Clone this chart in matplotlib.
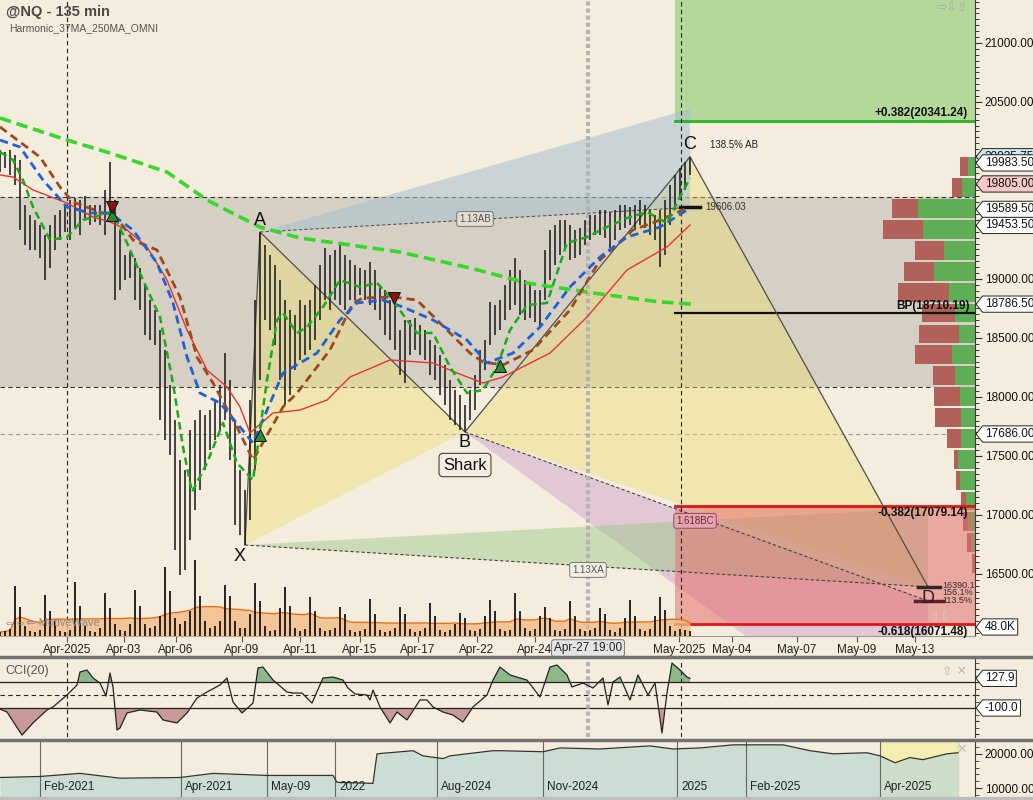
import numpy as np
import pandas as pd
import matplotlib
matplotlib.use("Agg")
import matplotlib.pyplot as plt
import matplotlib.transforms as mtransforms
from matplotlib.lines import Line2D
from matplotlib.path import Path
from matplotlib.ticker import MultipleLocator, FuncFormatter

plt.rcParams['font.family'] = ['Liberation Sans', 'DejaVu Sans']

# ---------------- data ----------------
highs = [20093, 20076, 20093, 20050, 20008, 19627, 19542, 19499, 19457, 19372,
         19457, 19542, 19584, 19627, 19669, 19686, 19669, 19703, 19627, 19627,
         19627, 19754, 19991, 19669, 19415, 19203, 19228, 19177, 19093, 18949,
         18821, 18737, 18567, 18398, 18101, 17804, 17465, 17381, 17720, 17804,
         17889, 17847, 17889, 17974, 18101, 18372, 18143, 17804, 17381, 17211,
         17974, 18821, 19398, 19288, 19203, 19118, 18991, 18821, 18737, 18694,
         18821, 18779, 18821, 18949, 19118, 19262, 19203, 19245, 19288, 19203,
         19160, 19118, 19093, 19076, 19144, 19076, 18949, 18906, 18821, 18779,
         18567, 18652, 18652, 18669, 18610, 18567, 18482, 18440, 18355, 18271,
         18143, 18059, 18016, 17932, 18059, 18186, 18398, 18482, 18805, 18779,
         18821, 18949, 19076, 19177, 19076, 18991, 18949, 18906, 18906, 19245,
         19415, 19457, 19499, 19499, 19457, 19415, 19432, 19499, 19542, 19542,
         19584, 19584, 19567, 19584, 19627, 19627, 19610, 19627, 19669, 19627,
         19584, 19542, 19584, 19669, 19796, 19881, 19940, 19991, 20036]
lows = [19906, 19940, 19881, 19796, 19415, 19288, 19245, 19245, 19177, 18991,
        19093, 19245, 19330, 19398, 19330, 19432, 19372, 19516, 19457, 19483,
        19457, 19372, 19483, 18821, 18906, 18991, 19008, 18821, 18737, 18525,
        18482, 18440, 17804, 17635, 17508, 16703, 16491, 16533, 16787, 17042,
        17211, 17381, 17550, 17635, 17720, 17804, 17465, 16915, 16830, 16745,
        16957, 17381, 18143, 18652, 18567, 18440, 18143, 17932, 18016, 18228,
        18313, 18355, 18398, 18482, 18652, 18821, 18737, 18821, 18779, 18737,
        18821, 18821, 18864, 18821, 18779, 18737, 18652, 18525, 18482, 18398,
        18186, 18118, 18355, 18398, 18355, 18313, 18186, 18143, 18016, 17932,
        17804, 17762, 17720, 17703, 17804, 17889, 18101, 18228, 18440, 18525,
        18567, 18652, 18737, 18779, 18694, 18652, 18669, 18635, 18593, 18821,
        18991, 19118, 19203, 19245, 19160, 19177, 19203, 19288, 19330, 19372,
        19372, 19347, 19262, 19330, 19415, 19432, 19457, 19415, 19457, 19432,
        19372, 19330, 19101, 19203, 19457, 19584, 19669, 19754, 19881]
volume_k = [21, 27, 37, 265, 154, 53, 27, 21, 32, 217,
            133, 80, 27, 21, 32, 286, 159, 53, 27, 21,
            42, 228, 148, 64, 32, 27, 64, 244, 159, 64,
            42, 53, 106, 366, 239, 95, 64, 80, 133, 403,
            212, 80, 42, 53, 80, 270, 212, 80, 42, 42,
            117, 281, 186, 53, 27, 32, 148, 260, 159, 42,
            27, 37, 207, 133, 42, 27, 32, 42, 154, 117,
            32, 21, 27, 37, 196, 117, 32, 21, 27, 42,
            154, 117, 37, 21, 27, 42, 175, 106, 32, 21,
            32, 64, 122, 95, 32, 27, 37, 106, 191, 133,
            37, 27, 32, 228, 133, 42, 27, 37, 106, 154,
            95, 32, 27, 37, 186, 106, 37, 27, 32, 42,
            148, 117, 32, 21, 42, 95, 191, 106, 37, 27,
            37, 106, 207, 138, 53, 27, 37, 32, 27]

# moving averages (bar index, price)
ma250_i = [0, 13.4, 22, 33.4, 41.4, 48, 52, 60, 70, 80, 94, 105.4, 118.6, 132, 138.4]
ma250_p = [20364, 20177, 20067, 19906, 19669, 19525, 19440, 19347, 19288, 19228,
           19093, 18966, 18881, 18805, 18787]
brown_i = [0, 8, 12, 14.6, 20, 23.4, 26.6, 31.4, 36, 39.4, 42.6, 47.4, 50.6, 56.6, 59.4,
           66, 70.6, 72.6, 78.6, 83.4, 90, 94, 96.6, 100.6, 106.6, 114, 120, 126.6, 132, 137.4]
brown_p = [20288, 20033, 19779, 19652, 19567, 19516, 19330, 19245, 18847, 18338, 18118,
           17745, 17465, 17915, 18033, 18398, 18796, 18838, 18847, 18821, 18542, 18372,
           18296, 18271, 18398, 18737, 19160, 19415, 19499, 19601]
blue_i = [0, 4, 8.6, 13.4, 18, 22, 26.6, 31.4, 34.6, 37.4, 40, 44, 48, 50.6, 56.6, 63.4,
          68, 71.4, 76.6, 80.6, 86.6, 93.4, 97.4, 102.6, 108, 114, 120, 125.4, 132, 137.4]
blue_p = [20177, 20118, 19838, 19610, 19559, 19559, 19415, 19135, 18796, 18338, 18033,
          17949, 17745, 17610, 18203, 18372, 18652, 18796, 18821, 18762, 18652, 18482,
          18288, 18372, 18593, 18932, 19186, 19355, 19440, 19584]
fast_i = [0, 2.6, 4.6, 6.6, 10, 13.4, 16.6, 20, 22.6, 25.4, 28.6, 32, 34.6, 36.6, 38.4,
          41.4, 44.6, 47.4, 50.6, 53.4, 55.4, 56.6, 59.4, 61.4, 64.6, 68, 72, 75.4, 78,
          81.4, 83.4, 86.6, 90, 93.4, 96.6, 99.4, 102, 105.4, 109.4, 113.4, 117.4, 121.4,
          125.4, 129.4, 133.4, 136, 138]
fast_p = [20076, 20008, 19838, 19610, 19330, 19355, 19499, 19542, 19559, 19305, 18991,
          18677, 18118, 17576, 17194, 17440, 17779, 17440, 17296, 18143, 18652, 18711,
          18542, 18593, 18762, 18991, 18932, 18966, 18847, 18652, 18542, 18542, 18254,
          18033, 18059, 18254, 18567, 18779, 18796, 19305, 19355, 19440, 19516, 19567,
          19474, 19694, 19855]
red_i = [0, 2.6, 6.6, 13.4, 18.6, 22, 25.4, 29.4, 33.4, 37.4, 41.4, 45.4, 48, 50, 54.6,
         60, 65.4, 70, 78, 86.6, 91.4, 96.6, 100.6, 110, 117.4, 125.4, 133.4, 138]
red_p = [19881, 19864, 19754, 19644, 19525, 19483, 19415, 19271, 18991, 18567, 18228,
         18084, 17915, 17694, 17864, 17889, 17974, 18169, 18313, 18288, 18203, 18118,
         18169, 18372, 18677, 19076, 19271, 19457]

# signals
sig_up_i = [22.4, 52, 100]
sig_up_p = [19540, 17678, 18262]
sig_dn_i = [22.4, 78.8]
sig_dn_p = [19612, 18838]

# harmonic (Shark) points
pt_names = ['X', 'A', 'B', 'C', 'D']
pt_i = [49, 52, 93, 138, 185.6]
pt_p = [16745, 19398, 17703, 20035.75, 16390.1]
ab_113, ab_1618 = 19606.03, 20441
bc_1618, bc_224 = 16271, 14850
xa_0886, xa_113 = 17059, 16390.1

# fib zone
fib_x0 = 135
fib_up, fib_bp, fib_m382, fib_m618 = 20341.24, 18710.19, 17079.14, 16071.48
band_lo, band_hi = 18085, 19695
ref_line = 17686.0

# volume profile
prof_price = [19950, 19773, 19596, 19419, 19242, 19065, 18888, 18711, 18534, 18357,
              18180, 18003, 17826, 17649, 17472, 17295, 17118, 16941, 16764, 16587]
prof_green = [7, 13, 57, 52, 31, 41, 26, 20, 16, 23, 20, 15, 14, 14, 17, 15, 9, 7, 4, 0]
prof_red = [8, 10, 26, 40, 29, 30, 51, 33, 40, 37, 22, 26, 26, 14, 4, 4, 5, 5, 4, 3]
prof_bin = 177
PROF_MAX = 975

# CCI(20)
cci_i = [0, 1.4, 4.4, 6.6, 9.4, 10.6, 13.4, 15.4, 16, 17.4,
         18.6, 20, 21.2, 22, 22.6, 23.4, 24, 25.4, 28, 31.4,
         32.6, 35.4, 37.4, 39.4, 41.4, 44, 45.4, 46.6, 48.4, 50.6,
         51.6, 52.6, 54.6, 57.4, 58.6, 60.4, 62.4, 64.6, 66.6, 68.6,
         69.6, 71, 73.4, 74, 74.6, 76, 78, 79.4, 81.4, 84,
         85.4, 86.6, 88.6, 90.6, 92.6, 94.6, 97.4, 98.6, 100, 102,
         104, 105.4, 108, 110, 111.4, 113.4, 114.4, 116.6, 118.6, 120.6,
         121.6, 122.6, 124, 126, 127.6, 129.6, 131, 132.4, 133.4, 134.4,
         136, 137.4, 138]
cci_v = [-108, -131, -308, -215, -115, -92, 0, 77, 177, 192,
         131, 92, -8, 169, 62, -269, -254, -138, -115, -131,
         -192, -215, -138, -23, 23, 77, 131, -54, -138, -62,
         208, 215, 115, 23, 15, 15, -62, 131, 138, 115,
         54, 8, 0, -38, 38, -92, -215, -131, -192, -38,
         -38, -92, -131, -154, -208, -92, 0, 115, 215, 154,
         131, 115, -15, 215, 231, 154, 62, 92, 54, 131,
         -77, 100, 138, -38, 154, 0, 92, -292, 15, 246,
         192, 138, 128]

# overview strip
ov_i = [0, 8, 16, 24, 36, 42.6, 53.4, 66.6, 67.4, 74.6, 75.4, 82.6, 84.6, 88.6, 90,
        98.6, 100, 108.6, 112, 120, 130, 134.6, 140, 146.6, 156.6, 162, 166.6, 173.4,
        176, 179, 182, 184.6, 189.4, 191.6]
ov_v = [13100, 13400, 14300, 12900, 13100, 14300, 13700, 13700, 11700, 11400, 20000,
        20900, 19400, 18600, 19400, 20900, 20900, 20600, 21700, 21400, 22300, 21400,
        21700, 22600, 22600, 20900, 20000, 20300, 19400, 17400, 18900, 18300, 20000, 20300]
ov_sep_i = [8, 36.2, 53.4, 67, 87.4, 108.6, 135.4, 149.2, 176]
ov_sep_lbl = ['Feb-2021', 'Apr-2021', 'May-09', '2022', 'Aug-2024', 'Nov-2024',
              '2025', 'Feb-2025', 'Apr-2025']
ov_window = (176, 191.6)

# time axis
date_pos = [13.4, 24.8, 35.2, 48.4, 60, 72, 83.6, 95.4, 107, 135.8, 146.4, 159.4, 171.4, 183]
date_lbl = ['Apr-2025', 'Apr-03', 'Apr-06', 'Apr-09', 'Apr-11', 'Apr-15', 'Apr-17',
            'Apr-22', 'Apr-24', 'May-2025', 'May-04', 'May-07', 'May-09', 'May-13']
cross_i, cross_lbl = 117.6, 'Apr-27 19:00'
vdash_i = [13.4, 136.2]

tag_prices = [20035.75, 19983.50, 19805.00, 19589.50, 19453.50, 18786.50, 17686.00]
tag_colors = ['#CFE6F2', 'white', '#F6C8C8', 'white', 'white', 'white', 'white']
price_ticks = [16500, 17000, 17500, 18000, 18500, 19000, 19500, 20000, 20500, 21000]
price_tick_lbl = ['16500.00', '17000.00', '17500.00', '18000.00', '18500.00', '19000.00',
                  '', '', '20500.00', '21000.00']   # 19500 / 20000 sit under the price tags

# ---------------- styling ----------------
BG = '#F4ECDC'
W, H = 1033.0, 800.0
fig = plt.figure(figsize=(10.33, 8.0), dpi=100, facecolor=BG)


def rect(l, t, r, b):
    return [l / W, 1 - b / H, (r - l) / W, (b - t) / H]


ax = fig.add_axes(rect(0, 0, 975, 636), facecolor=BG)
ax_vol = ax.twinx()
ax_cci = fig.add_axes(rect(0, 659, 975, 737), facecolor=BG, sharex=ax)
ax_ov = fig.add_axes(rect(0, 742, 975, 797), facecolor=BG)


class TagBox:
    def __init__(self, pad=0.18):
        self.pad = pad

    def __call__(self, x0, y0, width, height, mutation_size):
        p = mutation_size * self.pad
        x0 -= p
        y0 -= p
        x1 = x0 + width + 2 * p
        y1 = y0 + height + 2 * p
        t = (y1 - y0) / 2.0
        return Path([(x0, y0), (x1, y0), (x1, y1), (x0, y1), (x0 - t * 0.8, y0 + t), (x0, y0)],
                    closed=True)


def tag(a, val, txt, fc='white'):
    a.annotate(txt, xy=(1.0, val), xycoords=('axes fraction', 'data'), xytext=(7, 0),
               textcoords='offset points', ha='left', va='center', fontsize=8.5, color='#111',
               annotation_clip=False, zorder=20,
               bbox=dict(boxstyle=TagBox(), fc=fc, ec='#222', lw=0.7))


for a in (ax, ax_cci, ax_ov):
    for s in ('top', 'left'):
        a.spines[s].set_visible(False)
    a.spines['right'].set_color('#3A3A3A')
    a.spines['bottom'].set_color('#9A9A9A')
    a.yaxis.tick_right()
    a.yaxis.set_label_position('right')
ax_cci.spines['bottom'].set_visible(False)
ax_ov.spines['bottom'].set_visible(False)

# ---------------- main price panel ----------------
idx = np.arange(len(highs))
ax.set_xlim(0, 195)
ax.set_ylim(15974, 21364)

ax.axhspan(band_lo, band_hi, color='#D6D0C4', lw=0, zorder=0.2)
for lvl in (band_lo, band_hi):
    ax.axhline(lvl, color='#333333', ls=(0, (4, 3)), lw=0.8, zorder=0.4)
ax.axhline(ref_line, color='#9E9E9E', ls=(0, (4, 3)), lw=0.8, zorder=0.4)

# volume profile (anchored to right edge)
prof_tr = mtransforms.blended_transform_factory(
    mtransforms.Affine2D().scale(-1.0 / PROF_MAX, 1).translate(1, 0) + ax.transAxes, ax.transData)
ax.barh(prof_price, prof_green, height=prof_bin * 0.9, left=0, color='#5EAE55',
        transform=prof_tr, zorder=0.6, lw=0)
ax.barh(prof_price, prof_red, height=prof_bin * 0.9, left=prof_green, color='#B2605A',
        transform=prof_tr, zorder=0.6, lw=0)

# fib zones
ax.fill_between([fib_x0, 195], fib_up, 22000, color='#8ACB6E', alpha=0.6, lw=0, zorder=0.8)
ax.plot([fib_x0, 195], [fib_up, fib_up], color='#1FB81F', lw=2, zorder=2)
ax.fill_between([fib_x0, 195], fib_m618, fib_m382, color='#E5706F', alpha=0.55, lw=0, zorder=1.6)
ax.plot([fib_x0, 195], [fib_m382, fib_m382], color='#E01515', lw=2, zorder=2)
ax.plot([fib_x0, 195], [fib_m618, fib_m618], color='#E01515', lw=2, zorder=2)
ax.plot([fib_x0, 195], [fib_bp, fib_bp], color='#111', lw=1.6, zorder=2)
ax.text(193.6, fib_up + 12, '+0.382(20341.24)', ha='right', va='bottom', fontsize=8.5,
        fontweight='bold', color='#111', zorder=6)
ax.text(194, fib_bp + 12, 'BP(18710.19)', ha='right', va='bottom', fontsize=8.5,
        fontweight='bold', color='#111', zorder=6)
ax.text(193.6, fib_m382 - 12, '-0.382(17079.14)', ha='right', va='top', fontsize=8.5,
        fontweight='bold', color='#111', zorder=6)
ax.text(193.6, fib_m618 - 12, '-0.618(16071.48)', ha='right', va='top', fontsize=8.5,
        fontweight='bold', color='#111', zorder=6, clip_on=False)

# harmonic pattern
X, A, B, C, D = [(pt_i[k], pt_p[k]) for k in range(5)]
ax.fill([X[0], A[0], B[0]], [X[1], A[1], B[1]], color='#F0DE6A', alpha=0.38, lw=0, zorder=1.2)
ax.fill([B[0], C[0], D[0]], [B[1], C[1], D[1]], color='#F0DE6A', alpha=0.38, lw=0, zorder=1.2)
ax.fill([A[0], C[0], C[0]], [A[1], ab_1618, ab_113], color='#A8C0D0', alpha=0.55, lw=0, zorder=1.2)
ax.fill([B[0], D[0], D[0]], [B[1], bc_1618, bc_224], color='#C890C8', alpha=0.4, lw=0, zorder=1.3)
ax.fill([X[0], D[0], D[0]], [X[1], xa_0886, xa_113], color='#90C880', alpha=0.42, lw=0, zorder=1.3)
ax.plot(pt_i, pt_p, color='#4E4E4E', lw=0.9, zorder=2.2)
dash = (0, (3, 2))
ax.plot([A[0], C[0]], [A[1], ab_113], color='#555', lw=0.8, ls=dash, zorder=2.2)
ax.plot([B[0], D[0]], [B[1], bc_1618], color='#444', lw=0.8, ls=dash, zorder=2.2)
ax.plot([X[0], D[0]], [X[1], xa_113], color='#444', lw=0.8, ls=dash, zorder=2.2)
ax.plot([136, 140], [ab_113, ab_113], color='#111', lw=2.5, zorder=4)
ax.text(141, ab_113, '19606.03', fontsize=7, color='#333', va='center', zorder=6)
ax.plot([183.6, 188], [xa_113, xa_113], color='#2A2A2A', lw=2.5, zorder=4)
ax.plot([183, 188.6], [bc_1618, bc_1618], color='#5A2030', lw=2.5, zorder=4)
ax.text(188.4, xa_113 + 10, '16390.1', fontsize=6.5, color='#3A2A2A', va='center', zorder=6)
ax.text(188.4, xa_113 - 50, '156.1%', fontsize=6.5, color='#3A2A2A', va='center', zorder=6)
ax.text(188.4, bc_1618, '113.5%', fontsize=6.5, color='#3A2A2A', va='center', zorder=6)

lab_kw = dict(fontsize=13, color='#111', ha='center', zorder=7)
ax.text(X[0] - 1, X[1] - 25, 'X', va='top', **lab_kw)
ax.text(A[0], A[1] + 25, 'A', va='bottom', **lab_kw)
ax.text(B[0], B[1] - 15, 'B', va='top', **lab_kw)
ax.text(C[0], C[1] + 30, 'C', va='bottom', **lab_kw)
ax.text(D[0], D[1] - 25, 'D', va='top', fontsize=13, color='#3A1A2A', ha='center', zorder=7)
ax.text(C[0] + 4, C[1] + 100, '138.5% AB', fontsize=7, color='#222', va='center', zorder=7)
ax.text(B[0], 17423, 'Shark', fontsize=12, ha='center', va='center', color='#111', zorder=7,
        bbox=dict(boxstyle='round,pad=0.25', fc='#F4EEE2', ec='#444', lw=0.8))
box_kw = dict(fontsize=7, ha='center', va='center', zorder=7)
ax.text(95, 19508, '1.13AB', color='#555',
        bbox=dict(boxstyle='round,pad=0.25', fc='#E2DDD2', ec='#777', lw=0.7), **box_kw)
ax.text(139, 16950, '1.618BC', color='#6A2A3A',
        bbox=dict(boxstyle='round,pad=0.25', fc='#E6A4AE', ec='#8A5060', lw=0.7), **box_kw)
ax.text(117.6, 16534, '1.13XA', color='#555',
        bbox=dict(boxstyle='round,pad=0.25', fc='#F1EFE4', ec='#777', lw=0.7), **box_kw)

# vertical guides
for vx in vdash_i:
    ax.axvline(vx, color='#222', lw=0.8, ls=(0, (4, 3)), zorder=2.5)
    ax_cci.axvline(vx, color='#222', lw=0.8, ls=(0, (4, 3)), zorder=2.5)
ax.axvline(cross_i, color='#B4B4B4', lw=3, ls=(0, (1, 0.7)), zorder=2.4)
ax_cci.axvline(cross_i, color='#B4B4B4', lw=3, ls=(0, (1, 0.7)), zorder=2.4)

# price bars
ax.vlines(idx, lows, highs, color='#1E1E1E', lw=1.15, zorder=3)

# moving averages
ax.plot(ma250_i, ma250_p, color='#36D82A', lw=2.6, ls=(0, (3.2, 1.6)), zorder=4)
ax.plot(red_i, red_p, color='#E8342A', lw=1.0, zorder=4)
ax.plot(brown_i, brown_p, color='#9A4A20', lw=2.0, ls=(0, (3, 1.8)), zorder=4)
ax.plot(blue_i, blue_p, color='#1E62D6', lw=2.0, ls=(0, (3, 1.8)), zorder=4)
ax.plot(fast_i, fast_p, color='#1AAA1A', lw=1.8, ls=(0, (3, 1.8)), zorder=4)
ax.plot(sig_up_i, sig_up_p, ls='none', marker='^', ms=8, mfc='#2E8B2E', mec='#111', mew=0.7, zorder=5)
ax.plot(sig_dn_i, sig_dn_p, ls='none', marker='v', ms=8, mfc='#8B1212', mec='#111', mew=0.7, zorder=5)

# axes ticks
ax.set_yticks(price_ticks)
ax.set_yticklabels(price_tick_lbl)
ax.yaxis.set_minor_locator(MultipleLocator(50))
ax.tick_params(axis='y', which='major', length=5, width=0.8, colors='#333', labelsize=8.5,
               labelcolor='#111', pad=2, left=False, labelleft=False, right=True, labelright=True)
ax.tick_params(axis='y', which='minor', length=3, width=0.7, colors='#333', left=False, right=True)
ax.set_xticks(date_pos)
ax.set_xticklabels(date_lbl)
ax.tick_params(axis='x', length=4, width=0.8, colors='#555', labelsize=8.5, labelcolor='#222', pad=2)
ax.text(cross_i, -0.019, cross_lbl, transform=ax.get_xaxis_transform(), ha='center', va='center',
        fontsize=8.5, color='#222', zorder=20, clip_on=False,
        bbox=dict(boxstyle='round,pad=0.2', fc='#E4E4E4', ec='#777', lw=0.7))

for p, c in zip(tag_prices, tag_colors):
    tag(ax, p, f'{p:.2f}', c)

# volume
ax_vol.set_ylim(0, 3380)
ax_vol.set_yticks([])
ax_vol.tick_params(axis='y', which='both', left=False, right=False, labelleft=False, labelright=False)
for s in ax_vol.spines.values():
    s.set_visible(False)
vol_ma = pd.Series(volume_k, dtype=float).rolling(12, min_periods=1).mean()
ax_vol.fill_between(idx, 0, vol_ma, color='#F2BA86', alpha=0.8, lw=0, zorder=1)
ax_vol.plot(idx, vol_ma, color='#E87010', lw=1.0, zorder=2)
ax_vol.vlines(idx, 0, volume_k, color='#161616', lw=1.3, zorder=3)
tag(ax_vol, 48, '48.0K')
ax_vol.text(0.004, 40, '\u21d4\u21d4\u21d0 MotiveWave', transform=ax_vol.get_yaxis_transform(),
            fontsize=8, color='#8A8A8A', va='bottom', zorder=5)
ax_vol.text(0.975, 60, '\u21e7\u21e9', transform=ax_vol.get_yaxis_transform(), ha='right',
            fontsize=9, color='#D0D0D0', va='bottom', zorder=5, family='DejaVu Sans')

# ---------------- CCI panel ----------------
cci_a = np.array(cci_v, dtype=float)
ax_cci.set_ylim(-323, 277)
ax_cci.axhline(100, color='#222', lw=0.9, zorder=2)
ax_cci.axhline(-100, color='#222', lw=0.9, zorder=2)
ax_cci.axhline(0, color='#222', lw=0.8, ls=(0, (4, 3)), zorder=2)
ax_cci.fill_between(cci_i, cci_a, 100, where=cci_a >= 100, interpolate=True,
                    color='#8DB888', lw=0, zorder=1.5)
ax_cci.fill_between(cci_i, cci_a, -100, where=cci_a <= -100, interpolate=True,
                    color='#C89A97', lw=0, zorder=1.5)
ax_cci.plot(cci_i, cci_a, color='#222', lw=0.9, zorder=3)
ax_cci.set_yticks([-300, -200, -100, 0, 100, 200])
ax_cci.yaxis.set_minor_locator(MultipleLocator(50))
ax_cci.tick_params(axis='y', which='both', labelright=False, labelleft=False, left=False,
                   right=True, length=3, colors='#333')
ax_cci.tick_params(axis='x', which='both', bottom=False, labelbottom=False)
ax_cci.text(0.006, 0.84, 'CCI(20)', transform=ax_cci.transAxes, fontsize=9, color='#555',
            va='center')
ax_cci.text(0.992, 0.84, '\u21e7 \u2715', transform=ax_cci.transAxes, fontsize=9, ha='right',
            color='#BBBBBB', va='center', family='DejaVu Sans')
tag(ax_cci, 127.9, '127.9')
tag(ax_cci, -100, '-100.0')

# ---------------- overview panel ----------------
ax_ov.set_xlim(0, 195)
ax_ov.set_ylim(7430, 23430)
ax_ov.axvspan(ov_window[0], ov_window[1], color='#F4EEB0', lw=0, zorder=0.5)
ax_ov.fill_between(ov_i, 7430, ov_v, color='#BCD8D4', alpha=0.7, lw=0, zorder=1)
ax_ov.plot(ov_i, ov_v, color='#333', lw=0.9, zorder=2)
for sx, sl in zip(ov_sep_i, ov_sep_lbl):
    ax_ov.axvline(sx, color='#666', lw=0.8, zorder=1.5)
    ax_ov.text(sx + 0.8, 10300, sl, fontsize=8.5, color='#222', va='center', zorder=3)
ax_ov.axvline(ov_window[1], color='#D8D8C0', lw=1, zorder=1.5)
ax_ov.set_yticks([10000, 20000])
ax_ov.yaxis.set_major_formatter(FuncFormatter(lambda v, p: f'{v:.2f}'))
ax_ov.yaxis.set_minor_locator(MultipleLocator(2000))
ax_ov.tick_params(axis='y', which='major', length=5, colors='#333', labelsize=8.5,
                  labelcolor='#111', pad=2, left=False, labelleft=False, right=True, labelright=True)
ax_ov.tick_params(axis='y', which='minor', length=3, colors='#333', left=False, right=True)
ax_ov.tick_params(axis='x', which='both', bottom=False, labelbottom=False)
ax_ov.text(0.992, 0.86, '\u2715', transform=ax_ov.transAxes, fontsize=9, ha='right',
           color='#BBBBBB', va='center', family='DejaVu Sans')

# ---------------- figure decorations ----------------
fig.text(6 / W, 1 - 12 / H, '@NQ - 135 min', fontsize=10.5, fontweight='bold', color='#4A4A4A',
         va='center')
fig.text(9 / W, 1 - 28 / H, 'Harmonic_37MA_250MA_OMNI', fontsize=7.5, color='#555', va='center')
fig.text(968 / W, 1 - 8 / H, '\u21e8\u21e9\u21e7', fontsize=9, color='#A8A8A8', ha='right',
         va='center', family='DejaVu Sans')
for yy, c, lw in [(657, '#727272', 2.5), (739.5, '#727272', 2.5), (799, '#BDBDBD', 3)]:
    fig.add_artist(Line2D([0, 1], [1 - yy / H] * 2, transform=fig.transFigure, color=c, lw=lw))

fig.savefig('out.png', dpi=100, facecolor=BG)
